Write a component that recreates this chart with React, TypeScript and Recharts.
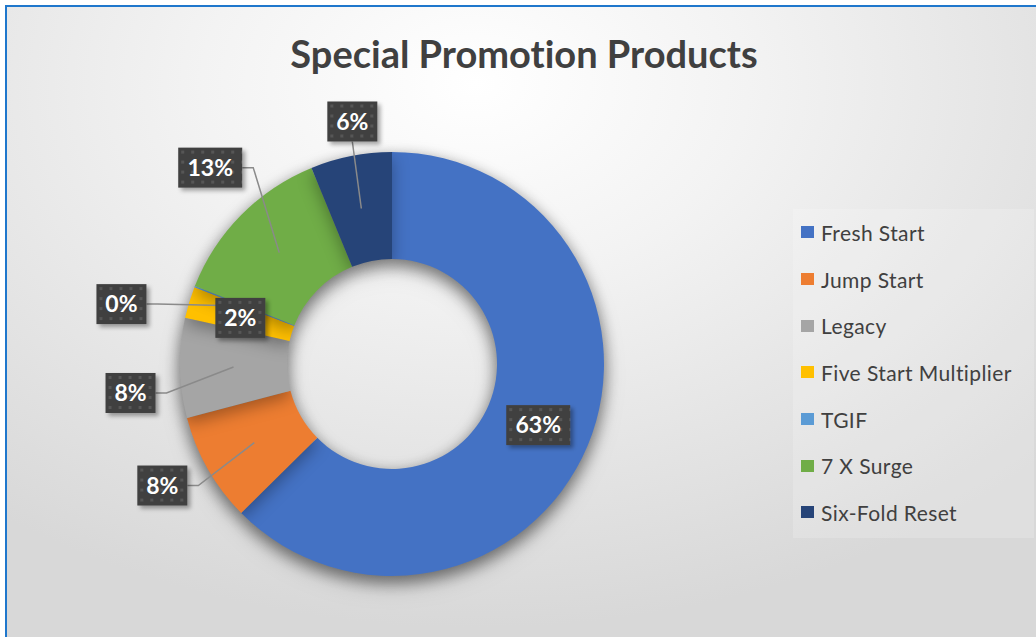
import React from "react";
import { PieChart, Pie, Cell, Legend } from "recharts";

const categories = ["Fresh Start", "Jump Start", "Legacy", "Five Start Multiplier", "TGIF", "7 X Surge", "Six-Fold Reset"];
const shares = [62.6, 8.3, 7.6, 2.4, 0.1, 12.8, 6.2];
const colors = ["#4472c4", "#ed7d31", "#a5a5a5", "#ffc000", "#5b9bd5", "#70ad47", "#264478"];

// where each data label box sits relative to its slice (null = on the slice itself)
const labelOffsets: ([number, number, "right" | "bottom"] | null)[] = [
  null,
  [-92, 43, "right"],
  [-103, 26, "right"],
  null,
  [-123, -2, "right"],
  [-69, -85, "right"],
  [-9, -87, "bottom"],
];

const data = categories.map((name, i) => ({ name, value: shares[i] }));

const RAD = Math.PI / 180;
const LABEL_FONT = "Lato, 'DejaVu Sans', sans-serif";

const LabelBox = ({ x, y, text, id }: { x: number; y: number; text: string; id: string }) => {
  const w = text.length <= 2 ? 50 : 64;
  const h = 40;
  return (
    <g>
      <defs>
        <pattern id={`dots-${id}`} width={10} height={10} patternUnits="userSpaceOnUse" x={x - w / 2} y={y - h / 2}>
          <rect width={10} height={10} fill="#404040" />
          <rect x={3} y={3} width={3} height={3} fill="#565656" />
        </pattern>
        <filter id={`shadow-${id}`} x="-30%" y="-30%" width="160%" height="160%">
          <feDropShadow dx={3} dy={3} stdDeviation={2} floodColor="#000" floodOpacity={0.35} />
        </filter>
      </defs>
      <rect x={x - w / 2} y={y - h / 2} width={w} height={h} fill={`url(#dots-${id})`} filter={`url(#shadow-${id})`} />
      <text x={x} y={y} dy="0.36em" textAnchor="middle" fill="#fff" fontFamily={LABEL_FONT} fontWeight={700} fontSize={23}>
        {text}
      </text>
    </g>
  );
};

const anchorOf = (p: any) => {
  const r = (p.innerRadius + p.outerRadius) / 2;
  return [p.cx + r * Math.cos(-p.midAngle * RAD), p.cy + r * Math.sin(-p.midAngle * RAD)];
};

const pctText = (p: any) => `${Math.round(p.percent * 100)}%`;

const renderLeaderLabel = (p: any) => {
  const off = labelOffsets[p.index];
  if (!off) return null;
  const [ax, ay] = anchorOf(p);
  const bx = ax + off[0];
  const by = ay + off[1];
  const text = pctText(p);
  const w = text.length <= 2 ? 50 : 64;
  let pts: string;
  if (off[2] === "bottom") {
    pts = `${bx},${by + 20} ${ax},${ay}`;
  } else {
    pts = `${bx + w / 2},${by} ${bx + w / 2 + 11},${by} ${ax},${ay}`;
  }
  return (
    <g key={`ll-${p.index}`}>
      <polyline points={pts} fill="none" stroke="#8a8a8a" strokeWidth={1.5} />
      <LabelBox x={bx} y={by} text={text} id={`l${p.index}`} />
    </g>
  );
};

const renderInnerLabel = (p: any) => {
  if (labelOffsets[p.index]) return null;
  const [ax, ay] = anchorOf(p);
  return (
    <g key={`il-${p.index}`}>
      <LabelBox x={ax} y={ay} text={pctText(p)} id={`i${p.index}`} />
    </g>
  );
};

const renderLegend = () => (
  <div
    style={{
      width: 241,
      height: 329,
      background: "rgba(255,255,255,0.18)",
      fontFamily: LABEL_FONT,
      fontSize: 21,
      color: "#404040",
    }}
  >
    {categories.map((name, i) => (
      <div key={name} style={{ height: 46.7, display: "flex", alignItems: "center", paddingLeft: 8 }}>
        <span style={{ width: 13, height: 12, background: colors[i], display: "inline-block", marginRight: 7 }} />
        <span style={{ letterSpacing: 0.4 }}>{name}</span>
      </div>
    ))}
  </div>
);

export default function App() {
  return (
    <div style={{ position: "absolute", left: 0, top: 0, width: 1036, height: 637, overflow: "hidden" }}>
      <style>{`.donut-ring { filter: drop-shadow(0px 6px 8px rgba(0,0,0,0.32)); }`}</style>
      <div
        style={{
          position: "absolute",
          left: 5,
          top: 5,
          width: 1040,
          height: 640,
          border: "2px solid #1f77cc",
          background: "radial-gradient(ellipse 75% 85% at 45% 12%, #ffffff 0%, #f3f3f3 35%, #d8d8d8 100%)",
        }}
      />
      <div
        style={{
          position: "absolute",
          left: 0,
          top: 34,
          width: 1048,
          textAlign: "center",
          fontFamily: LABEL_FONT,
          fontWeight: 700,
          fontSize: 38,
          lineHeight: "38px",
          fontVariantLigatures: "none",
          color: "#404040",
        }}
      >
        Special Promotion Products
      </div>
      <PieChart
        width={1036}
        height={637}
        margin={{ top: 0, right: 0, bottom: 0, left: 0 }}
        style={{ position: "absolute", left: 0, top: 0 }}
      >
        <Pie
          className="donut-ring"
          data={data}
          dataKey="value"
          nameKey="name"
          cx={392}
          cy={364}
          innerRadius={105}
          outerRadius={212}
          startAngle={90}
          endAngle={-270}
          stroke="none"
          label={false}
          labelLine={false}
          isAnimationActive={false}
        >
          {data.map((d, i) => (
            <Cell key={d.name} fill={colors[i]} />
          ))}
        </Pie>
        <Pie
          data={data}
          dataKey="value"
          cx={392}
          cy={364}
          innerRadius={105}
          outerRadius={212}
          startAngle={90}
          endAngle={-270}
          fill="none"
          stroke="none"
          legendType="none"
          label={renderLeaderLabel}
          labelLine={false}
          isAnimationActive={false}
        />
        <Pie
          data={data}
          dataKey="value"
          cx={392}
          cy={364}
          innerRadius={105}
          outerRadius={212}
          startAngle={90}
          endAngle={-270}
          fill="none"
          stroke="none"
          legendType="none"
          label={renderInnerLabel}
          labelLine={false}
          isAnimationActive={false}
        />
        <Legend
          content={renderLegend}
          wrapperStyle={{ position: "absolute", left: 793, top: 209, width: 241, height: 329 }}
        />
      </PieChart>
    </div>
  );
}
